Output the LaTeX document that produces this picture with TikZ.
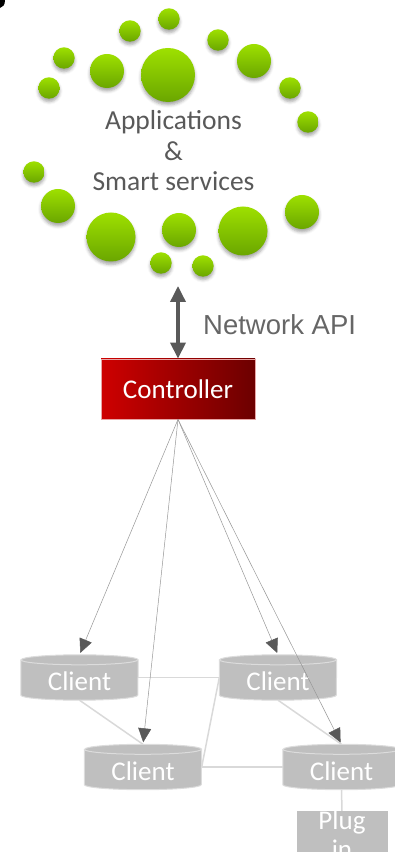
\documentclass[tikz,border=0pt]{standalone}
\usepackage{fontspec}
\setmainfont{Carlito}
\newfontfamily\arialfont{Liberation Sans}
\usetikzlibrary{arrows.meta,shadows.blur,calc}
\pgfdeclarelayer{background}
\pgfsetlayers{background,main}

\definecolor{txtgray}{RGB}{89,89,89}
\definecolor{apigray}{RGB}{102,102,102}
\definecolor{bubtop}{RGB}{158,224,0}
\definecolor{bubbot}{RGB}{106,166,0}
\definecolor{ctrlL}{RGB}{206,0,0}
\definecolor{ctrlR}{RGB}{108,0,0}
\definecolor{ctrlborder}{RGB}{232,165,165}
\definecolor{cylfill}{RGB}{191,191,191}
\definecolor{cyledge}{RGB}{220,220,220}
\definecolor{linkgray}{RGB}{217,217,217}
\definecolor{feedgray}{RGB}{150,150,150}
\definecolor{headgray}{RGB}{89,89,89}

\tikzset{
  x=1pt, y=1pt,
  bubble/.style={circle, minimum size=#1, inner sep=0pt,
    top color=bubtop, bottom color=bubbot,
    blur shadow={shadow xshift=0pt, shadow yshift=-3pt,
      shadow blur radius=3pt, shadow opacity=35}},
  apptext/.style={align=center, text=txtgray, inner sep=0pt,
    font=\fontsize{27.5}{30.5}\selectfont},
  apilabel/.style={anchor=west, inner sep=0pt, text=apigray,
    font=\arialfont\fontsize{27.5}{33}\selectfont},
  apiarrow/.style={draw=headgray, line width=3.5pt,
    arrows={Triangle[length=16pt,width=15pt]-Triangle[length=16pt,width=15pt]}},
  ctrlbox/.style={rectangle, minimum width=154pt, minimum height=60pt,
    left color=ctrlL, right color=ctrlR, draw=ctrlborder, line width=0.8pt,
    text=white, font=\fontsize{27}{32}\selectfont},
  clientnode/.style={rectangle, minimum width=117pt, minimum height=45pt,
    inner sep=0pt, text=white, text height=27pt, text depth=0pt,
    font=\fontsize{27}{32}\selectfont},
  cylbody/.style={fill=cylfill, draw=cyledge, line width=1pt},
  cylrim/.style={draw=cyledge, line width=1pt},
  link/.style={draw=linkgray, line width=1.5pt},
  feed/.style={draw=feedgray, line width=0.5pt, shorten >=2pt,
    arrows={-Triangle[length=14pt,width=13pt,color=headgray]}},
  plugbox/.style={rectangle, fill=cylfill, minimum width=91pt,
    minimum height=42pt, align=center, text=white, inner sep=0pt,
    font=\fontsize{27}{29}\selectfont},
}

% cylinder drawn behind a client node
\newcommand\clientcylinder[1]{%
  \begin{pgfonlayer}{background}
    \path[cylbody] let \p1=(#1.north west), \p2=(#1.south east) in
      (\x1,\y1-5pt) -- (\x1,\y2+5pt)
      arc[start angle=180, end angle=360, x radius=58.5pt, y radius=5pt]
      -- (\x2,\y1-5pt)
      arc[start angle=0, end angle=180, x radius=58.5pt, y radius=5pt]
      -- cycle;
    \path[cylrim] let \p1=(#1.north west) in
      (\x1,\y1-5pt)
      arc[start angle=180, end angle=360, x radius=58.5pt, y radius=5pt];
  \end{pgfonlayer}}

\begin{document}
\begin{tikzpicture}
\useasboundingbox (0,0) rectangle (395,852);

% corner mark
\fill[black] (0,852) -- (5,852) .. controls (5,847) and (3,845) .. (0,844) -- cycle;

% ring of application bubbles
\node[bubble=21.4pt] (b1)  at (169,833) {};
\node[bubble=21.4pt] (b2)  at (130,821) {};
\node[bubble=21.4pt] (b3)  at (218,812) {};
\node[bubble=21.4pt] (b4)  at (64,794)  {};
\node[bubble=34pt]   (b5)  at (107,781) {};
\node[bubble=54pt]   (b6)  at (168,777) {};
\node[bubble=34pt]   (b7)  at (254,791) {};
\node[bubble=21.4pt] (b8)  at (49,764)  {};
\node[bubble=21.4pt] (b9)  at (290,764) {};
\node[bubble=21.4pt] (b10) at (308,730) {};
\node[bubble=21.4pt] (b11) at (34,680)  {};
\node[bubble=34pt]   (b12) at (58,646)  {};
\node[bubble=49pt]   (b13) at (111,615) {};
\node[bubble=34pt]   (b14) at (179,622) {};
\node[bubble=49pt]   (b15) at (243,621) {};
\node[bubble=34pt]   (b16) at (302,640) {};
\node[bubble=21.4pt] (b17) at (161,589) {};
\node[bubble=21.4pt] (b18) at (203,586) {};

\node[apptext] (apps) at (173.5,701) {Applications\\\&\\Smart services};

% controller and northbound interface
\node[ctrlbox] (ctrl) at (178,463) {Controller};
\coordinate (apitop) at (178,566);
\draw[apiarrow] (apitop) -- (ctrl.north);
\node[apilabel] (api) at (203,527) {Network API};

% clients
\node[clientnode] (c1) at (79.5,174.5) {Client};
\node[clientnode] (c2) at (278,174.5)  {Client};
\node[clientnode] (c3) at (143,85)     {Client};
\node[clientnode] (c4) at (341.5,85)   {Client};
\clientcylinder{c1}
\clientcylinder{c2}
\clientcylinder{c3}
\clientcylinder{c4}

\node[plugbox] (plug) at (342,17) {Plug\\in};

% links between clients
\begin{pgfonlayer}{background}
\draw[link] (c1.east) -- (c2.west);
\draw[link] (c1.south) -- (c3.north);
\draw[link] (c2.west) -- (c3.east);
\draw[link] (c3.east) -- (c4.west);
\draw[link] (c2.south) -- (c4.north);
\draw[link] (c4.south) -- (plug.north);
\end{pgfonlayer}

% controller to clients
\draw[feed] (ctrl.south) -- (c1.north);
\draw[feed] (ctrl.south) -- (c3.north);
\draw[feed] (ctrl.south) -- (c2.north);
\draw[feed] (ctrl.south) -- (c4.north);
\end{tikzpicture}
\end{document}
